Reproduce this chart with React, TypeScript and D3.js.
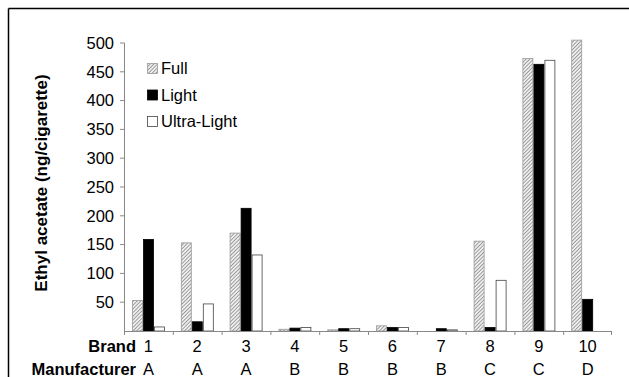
import React from "react";
import * as d3 from "d3";

const brands = ["1", "2", "3", "4", "5", "6", "7", "8", "9", "10"];
const manufacturers = ["A", "A", "A", "B", "B", "B", "B", "C", "C", "D"];
const seriesNames = ["Full", "Light", "Ultra-Light"];
const fullValues = [53, 153, 170, 3, 2, 9, 0, 156, 473, 505];
const lightValues = [159, 16, 213, 5, 4, 6, 4, 6, 463, 55];
const ultraValues = [7, 47, 132, 6, 4, 6, 2, 88, 470, 0];
const yTicks = [50, 100, 150, 200, 250, 300, 350, 400, 450, 500];

const W = 629;
const H = 377;
const left = 124;
const right = 612;
const top = 43;
const bottom = 331;

export default function App() {
  const x = d3.scaleBand<string>().domain(brands).range([left, right]).paddingInner(0).paddingOuter(0);
  const inner = d3
    .scaleBand<string>()
    .domain(seriesNames)
    .range([8, 8 + 33]);
  const y = d3.scaleLinear().domain([0, 500]).range([bottom, top]);
  const series = [fullValues, lightValues, ultraValues];
  const fills = ["url(#hatch)", "#000", "#fff"];
  const strokes = ["#999", "#000", "#444"];
  const font = "Arial, 'Liberation Sans', sans-serif";

  return (
    <svg width={W} height={H} style={{ position: "absolute", left: 0, top: 0 }} fontFamily={font}>
      <defs>
        <pattern id="hatch" patternUnits="userSpaceOnUse" width="2.6" height="2.6" patternTransform="rotate(45)">
          <rect width="2.6" height="2.6" fill="#eee" />
          <line x1="0" y1="0" x2="0" y2="2.6" stroke="#777" strokeWidth="1.3" />
        </pattern>
      </defs>
      <rect x={0} y={0} width={W} height={H} fill="#fff" />
      <line x1={8.5} y1={8.5} x2={W} y2={8.5} stroke="#000" strokeWidth={1.5} />
      <line x1={8.5} y1={8.5} x2={8.5} y2={H} stroke="#000" strokeWidth={1.5} />

      {/* bars */}
      {series.map((vals, si) =>
        vals.map((v, i) => {
          if (v <= 0) return null;
          const bx = (x(brands[i]) as number) + (inner(seriesNames[si]) as number);
          return (
            <rect
              key={`${si}-${i}`}
              x={bx + 0.5}
              y={y(v)}
              width={inner.bandwidth() - 1}
              height={bottom - y(v)}
              fill={fills[si]}
              stroke={strokes[si]}
              strokeWidth={0.8}
            />
          );
        })
      )}

      {/* y axis */}
      <line x1={left + 0.5} y1={top} x2={left + 0.5} y2={bottom} stroke="#888" strokeWidth={1} />
      {yTicks.map((t) => (
        <g key={t}>
          <line x1={left - 4} y1={y(t)} x2={left + 0.5} y2={y(t)} stroke="#888" />
          <text x={left - 10} y={y(t)} dy="0.35em" textAnchor="end" fontSize={16.5} fill="#000">
            {t}
          </text>
        </g>
      ))}

      {/* x axis */}
      <line x1={left} y1={bottom + 0.5} x2={right} y2={bottom + 0.5} stroke="#888" strokeWidth={1} />
      {brands.map((b) => (
        <line
          key={"t" + b}
          x1={(x(b) as number) + 0.5}
          y1={bottom}
          x2={(x(b) as number) + 0.5}
          y2={bottom + 4}
          stroke="#888"
        />
      ))}
      <line x1={right - 0.5} y1={bottom} x2={right - 0.5} y2={bottom + 4} stroke="#888" />
      {brands.map((b, i) => (
        <g key={"l" + b}>
          <text x={(x(b) as number) + x.bandwidth() / 2} y={352} textAnchor="middle" fontSize={16.5}>
            {b}
          </text>
          <text x={(x(b) as number) + x.bandwidth() / 2} y={375} textAnchor="middle" fontSize={16.5}>
            {manufacturers[i]}
          </text>
        </g>
      ))}
      <text x={136} y={352} textAnchor="end" fontSize={16.5} fontWeight="bold">
        Brand
      </text>
      <text x={136} y={375} textAnchor="end" fontSize={16.5} fontWeight="bold">
        Manufacturer
      </text>

      {/* y title */}
      <text
        transform={`translate(47,${183}) rotate(-90)`}
        textAnchor="middle"
        fontSize={17}
        fontWeight="bold"
      >
        Ethyl acetate (ng/cigarette)
      </text>

      {/* legend */}
      {seriesNames.map((s, i) => (
        <g key={s} transform={`translate(147,${63 + i * 26.5})`}>
          <rect x={0.5} y={0.5} width={10} height={10} fill={fills[i]} stroke={strokes[i]} strokeWidth={0.8} />
          <text x={14} y={5.5} dy="0.36em" fontSize={16.5}>
            {s}
          </text>
        </g>
      ))}
    </svg>
  );
}
